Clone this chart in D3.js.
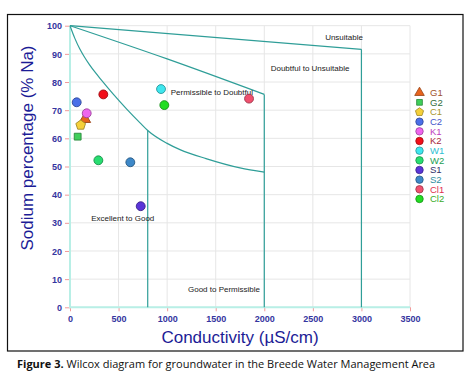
<!DOCTYPE html>
<html><head><meta charset="utf-8">
<script src="https://cdn.jsdelivr.net/npm/d3@7"></script>
<style>
html,body{margin:0;padding:0;background:#fff;}
svg{display:block;}
</style></head>
<body>
<svg id="chart" width="468" height="378"></svg>
<script>
// ---- data ----
const categories   = ["G1","G2","C1","C2","K1","K2","W1","W2","S1","S2","Cl1","Cl2"];
const conductivity = [154, 79, 110, 69, 172, 343, 937, 292, 728, 621, 1843, 971];
const sodiumPct    = [66.8, 60.6, 64.7, 72.8, 68.9, 75.6, 77.5, 52.2, 35.9, 51.5, 74.1, 71.8];
const shapes       = ["triangle","square","pentagon","circle","circle","circle","circle","circle","circle","circle","circle","circle"];
const fills        = ["#e8641e","#3fcf5a","#f5d03a","#4a6fe8","#ee66ee","#f20f1a","#3ee6ee","#28dd70","#5a35d8","#3d88c8","#f0506e","#22dd22"];
const legendText   = ["#a0522d","#2f6b3a","#a8962e","#4455cc","#c040c0","#a8283c","#2ec0d2","#22a055","#30306a","#2e8ea0","#e03050","#3aac2a"];

const xTicks = [0,500,1000,1500,2000,2500,3000,3500];
const yTicks = [0,10,20,30,40,50,60,70,80,90,100];

const unsuitableBoundary  = [[0,100],[3000,91.6]];
const doubtfulBoundary    = [[0,100],[1000,88.2],[2000,75.6]];
const permissibleBoundary = [[0,100],[50,95.5],[100,91.8],[150,88.8],[200,86.2],[260,83.4],[326,80.6],[443,75.8],[584,70.4],[721,65.5],[800,62.8],[995,58.3],[1132,56],[1400,52.8],[1750,49.5],[2000,48]];
const verticalLimits = [[800,62.8],[2000,75.6],[3000,91.6]];

const regionLabels = [
  {t:"Unsuitable", x:2821, y:94.9, a:"middle"},
  {t:"Doubtful to Unsuitable", x:2471, y:83.9, a:"middle"},
  {t:"Permissible to Doubtful", x:1037, y:75.4, a:"start"},
  {t:"Excellent to Good", x:543, y:30.6, a:"middle"},
  {t:"Good to Permissible", x:1585, y:5.6, a:"middle"}
];

// ---- drawing ----
const svg = d3.select("#chart");
const L = 70, R = 410, T = 25.7, B = 307.3;
const x = d3.scaleLinear().domain([0,3500]).range([L,R]);
const y = d3.scaleLinear().domain([0,100]).range([B,T]);

// frame
svg.append("rect").attr("x",7.5).attr("y",14.5).attr("width",455.5).attr("height",336.5)
  .attr("fill","none").attr("stroke","#111").attr("stroke-width",1.2);

// grid
const g = svg.append("g");
g.selectAll(".vg").data(xTicks).join("line")
  .attr("x1",d=>x(d)).attr("x2",d=>x(d)).attr("y1",y(0)).attr("y2",y(100))
  .attr("stroke","#e6e6e6").attr("stroke-width",1);
g.selectAll(".hg").data(yTicks).join("line")
  .attr("x1",x(0)).attr("x2",x(3500)).attr("y1",d=>y(d)).attr("y2",d=>y(d))
  .attr("stroke","#e6e6e6").attr("stroke-width",1);

// axes
const xAxis = d3.axisBottom(x).tickValues(xTicks).tickSize(4).tickPadding(4).tickFormat(d3.format("d"));
const yAxis = d3.axisLeft(y).tickValues(yTicks).tickSize(5).tickPadding(3).tickFormat(d3.format("d"));
const gx = svg.append("g").attr("transform",`translate(0,${B})`).call(xAxis);
const gy = svg.append("g").attr("transform",`translate(${L},0)`).call(yAxis);
[gx,gy].forEach(a=>{
  a.select(".domain").remove();
  a.selectAll(".tick line").attr("stroke","#f19a9a").attr("stroke-width",1);
  a.selectAll(".tick text").attr("fill","#3535a0").attr("font-family","Liberation Sans, Arial, sans-serif")
   .attr("font-size","9px").attr("font-weight","bold");
});
gy.selectAll(".tick text").attr("dy","0.35em");
// axis lines (light cyan)
svg.append("line").attr("x1",x(0)).attr("x2",x(0)).attr("y1",y(100)).attr("y2",y(0)+1)
  .attr("stroke","#b8efe6").attr("stroke-width",2);
svg.append("line").attr("x1",x(0)).attr("x2",x(3500)).attr("y1",y(0)).attr("y2",y(0))
  .attr("stroke","#b8efe6").attr("stroke-width",2);

// boundary lines
const teal = "#2f9e98";
const lineLin = d3.line().x(d=>x(d[0])).y(d=>y(d[1]));
const lineSmooth = d3.line().x(d=>x(d[0])).y(d=>y(d[1])).curve(d3.curveMonotoneX);
svg.append("path").attr("d",lineLin(unsuitableBoundary)).attr("fill","none").attr("stroke",teal).attr("stroke-width",1.2);
svg.append("path").attr("d",lineSmooth(doubtfulBoundary)).attr("fill","none").attr("stroke",teal).attr("stroke-width",1.2);
svg.append("path").attr("d",lineSmooth(permissibleBoundary)).attr("fill","none").attr("stroke",teal).attr("stroke-width",1.2);
svg.selectAll(".vl").data(verticalLimits).join("line")
  .attr("x1",d=>x(d[0])).attr("x2",d=>x(d[0])).attr("y1",d=>y(d[1])).attr("y2",y(0))
  .attr("stroke",teal).attr("stroke-width",1.2);

// region labels
svg.selectAll(".rl").data(regionLabels).join("text")
  .attr("x",d=>x(d.x)).attr("y",d=>y(d.y)).attr("text-anchor",d=>d.a)
  .attr("font-family","Liberation Sans, Arial, sans-serif").attr("font-size","8px").attr("fill","#222")
  .text(d=>d.t);

// symbols
function symPath(shape, size){
  if(shape==="triangle") return d3.symbol(d3.symbolTriangle, size*0.9)();
  if(shape==="square") return d3.symbol(d3.symbolSquare, size*0.75)();
  if(shape==="pentagon"){
    const r = Math.sqrt(size/2.4);
    const pts = d3.range(5).map(i=>{const a=-Math.PI/2+i*2*Math.PI/5;return [r*Math.cos(a),r*Math.sin(a)];});
    return "M"+pts.map(p=>p.join(",")).join("L")+"Z";
  }
  return d3.symbol(d3.symbolCircle, size)();
}
const pts = categories.map((c,i)=>({c, x:conductivity[i], y:sodiumPct[i], s:shapes[i], f:fills[i]}));
svg.selectAll(".pt").data(pts).join("path")
  .attr("transform",d=>`translate(${x(d.x)},${y(d.y)})`)
  .attr("d",d=>symPath(d.s,62))
  .attr("fill",d=>d.f).attr("stroke",d=>d3.color(d.f).darker(1.2)).attr("stroke-width",0.9);

// legend
const lg = svg.append("g");
const ly0 = 92.7, ldy = 9.66;
lg.selectAll(".lm").data(pts).join("path")
  .attr("transform",(d,i)=>`translate(419.5,${ly0+i*ldy})`)
  .attr("d",d=>symPath(d.s,44))
  .attr("fill",d=>d.f).attr("stroke",d=>d3.color(d.f).darker(1.2)).attr("stroke-width",0.8);
lg.selectAll(".lt").data(pts).join("text")
  .attr("x",430).attr("y",(d,i)=>ly0+i*ldy).attr("dy","0.35em")
  .attr("font-family","Liberation Sans, Arial, sans-serif").attr("font-size","9.5px")
  .attr("fill",(d,i)=>legendText[i]).text(d=>d.c);

// axis titles
svg.append("text").attr("x",(L+R)/2).attr("y",343).attr("text-anchor","middle")
  .attr("font-family","Liberation Sans, Arial, sans-serif").attr("font-size","17px").attr("fill","#1c1c96")
  .text("Conductivity (µS/cm)");
svg.append("text").attr("transform","translate(33,148) rotate(-90)").attr("text-anchor","middle")
  .attr("font-family","Liberation Sans, Arial, sans-serif").attr("font-size","17px").attr("fill","#1c1c96")
  .text("Sodium percentage (% Na)");

// caption
const cap = svg.append("text").attr("x",17).attr("y",368)
  .attr("font-family","Open Sans, Noto Sans, sans-serif").attr("font-size","11px").attr("fill","#111");
cap.append("tspan").attr("font-weight","bold").text("Figure 3.");
cap.append("tspan").text(" Wilcox diagram for groundwater in the Breede Water Management Area");
</script>
</body></html>
